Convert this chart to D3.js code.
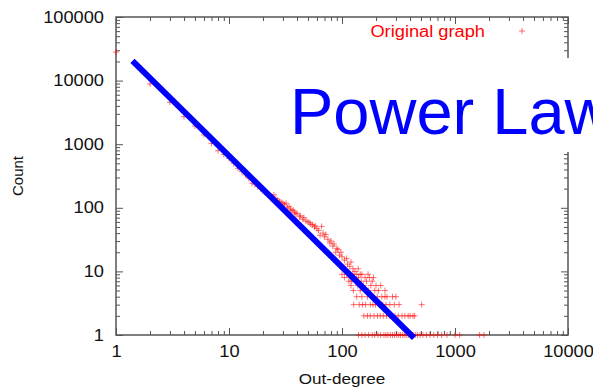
<!DOCTYPE html>
<html>
<head>
<meta charset="utf-8">
<script src="https://cdn.jsdelivr.net/npm/d3@7"></script>
<style>
  body { margin: 0; background: #fff; }
  text { font-family: "Liberation Sans", Arial, sans-serif; }
</style>
</head>
<body>
<script>
(function (d3) {
  "use strict";

  /***** Data *****/
  // one point per out-degree value: [degree, count]
  var outDegree = [
    1, 2, 3, 4, 5, 6, 7, 8, 9, 10, 11, 12, 13, 14, 15, 16, 17, 18, 19, 20,
    21, 22, 23, 24, 25, 26, 27, 28, 29, 30, 31, 32, 33, 34, 35, 36, 37, 38, 39, 40,
    42, 43, 45, 46, 48, 50, 52, 53, 55, 57, 58, 60, 62, 64, 66, 68, 70, 72, 75, 78,
    80, 83, 85, 88, 90, 92, 95, 98, 100, 105, 110, 112, 117, 120, 125, 130, 139, 145
  ];
  var count = [
    28000, 8850, 4560, 2710, 1930, 1400, 1030, 790, 690, 600, 500, 418, 370, 328, 290, 243, 235, 215, 200, 185,
    172, 165, 158, 150, 160, 140, 132, 125, 122, 118, 112, 118, 100, 105, 95, 90, 92, 85, 80, 82,
    72, 75, 66, 70, 62, 60, 58, 55, 54, 50, 52, 47, 44, 37, 51, 40, 35, 38, 32, 28,
    30, 25, 27, 20, 23, 22, 18, 20, 17, 15, 16, 13, 12, 14, 11, 10, 11, 9
  ];
  // low counts: degrees that share the same count
  var row9 = [100, 110, 125, 135, 150, 170];
  var row8 = [105, 118, 128, 140, 160, 175, 190];
  var row7 = [115, 122, 132, 148, 165, 185];
  var row6 = [120, 138, 155, 180, 200, 220];
  var row5 = [126, 145, 158, 172, 195, 210, 240];
  var row4 = [135, 150, 168, 185, 205, 225, 240, 250, 280, 300];
  var row3 = [127, 142, 152, 162, 178, 188, 198, 212, 230, 245, 265, 290, 320, 507];
  var row2 = [156, 168, 178, 192, 206, 218, 232, 248, 262, 275, 295, 315, 340, 360, 385, 400, 425, 440];
  var row1 = [140, 150, 160, 172, 185, 195, 208, 220, 235, 245, 255, 268, 280, 292, 305, 318, 330, 345,
    360, 375, 390, 410, 425, 445, 465, 490, 520, 560, 600, 650, 700, 760, 850, 1000, 1100, 1650, 1800];

  var fitDegree = [1.4, 434];
  var fitCount = [20500, 0.9];

  var xMajor = [1, 10, 100, 1000, 10000];
  var yMajor = [1, 10, 100, 1000, 10000, 100000];

  /***** Configuration *****/
  var width = 593, height = 389;
  var plot = { left: 116, right: 568, top: 17, bottom: 335 };
  var stretch = 1.14; // the slide image was widened a bit

  var x = d3.scaleLog().domain([1, 10000]).range([plot.left, plot.right]);
  var y = d3.scaleLog().domain([1, 100000]).range([plot.bottom, plot.top]);

  function minors(majors) {
    var m = [];
    majors.slice(0, -1).forEach(function (v) {
      for (var k = 2; k < 10; k++) m.push(v * k);
    });
    return m;
  }

  function widen(sel) {
    sel.each(function () {
      var t = d3.select(this);
      if (!t.text()) return;
      t.attr("textLength", this.getComputedTextLength() * stretch)
        .attr("lengthAdjust", "spacingAndGlyphs");
    });
  }

  var points = outDegree.map(function (d, i) { return [d, count[i]]; });
  [[9, row9], [8, row8], [7, row7], [6, row6], [5, row5], [4, row4], [3, row3], [2, row2], [1, row1]]
    .forEach(function (r) {
      r[1].forEach(function (d) { points.push([d, r[0]]); });
    });

  var svg = d3.select("body").append("svg")
    .attr("width", width)
    .attr("height", height);

  /***** Axes (gnuplot style, ticks inward on all sides) *****/
  var frameColor = "#555";
  function styleAxis(g) {
    g.select(".domain").remove();
    g.selectAll("line").attr("stroke", frameColor);
    g.selectAll("text").attr("fill", "#111").style("font-size", "16px").call(widen);
  }

  svg.append("g").attr("transform", "translate(0," + plot.bottom + ")")
    .call(d3.axisBottom(x).tickValues(xMajor).tickFormat(d3.format("d"))
      .tickSizeInner(-7).tickSizeOuter(0).tickPadding(11))
    .call(styleAxis);
  svg.append("g").attr("transform", "translate(0," + plot.bottom + ")")
    .call(d3.axisBottom(x).tickValues(minors(xMajor)).tickFormat("").tickSizeInner(-4).tickSizeOuter(0))
    .call(styleAxis);
  svg.append("g").attr("transform", "translate(0," + plot.top + ")")
    .call(d3.axisTop(x).tickValues(xMajor).tickFormat("").tickSizeInner(-7).tickSizeOuter(0))
    .call(styleAxis);
  svg.append("g").attr("transform", "translate(0," + plot.top + ")")
    .call(d3.axisTop(x).tickValues(minors(xMajor)).tickFormat("").tickSizeInner(-4).tickSizeOuter(0))
    .call(styleAxis);

  svg.append("g").attr("transform", "translate(" + plot.left + ",0)")
    .call(d3.axisLeft(y).tickValues(yMajor).tickFormat(d3.format("d"))
      .tickSizeInner(-7).tickSizeOuter(0).tickPadding(12))
    .call(styleAxis);
  svg.append("g").attr("transform", "translate(" + plot.left + ",0)")
    .call(d3.axisLeft(y).tickValues(minors(yMajor)).tickFormat("").tickSizeInner(-4).tickSizeOuter(0))
    .call(styleAxis);
  svg.append("g").attr("transform", "translate(" + plot.right + ",0)")
    .call(d3.axisRight(y).tickValues(yMajor).tickFormat("").tickSizeInner(-7).tickSizeOuter(0))
    .call(styleAxis);
  svg.append("g").attr("transform", "translate(" + plot.right + ",0)")
    .call(d3.axisRight(y).tickValues(minors(yMajor)).tickFormat("").tickSizeInner(-4).tickSizeOuter(0))
    .call(styleAxis);

  svg.append("rect")
    .attr("x", plot.left).attr("y", plot.top)
    .attr("width", plot.right - plot.left).attr("height", plot.bottom - plot.top)
    .attr("fill", "none").attr("stroke", frameColor).attr("stroke-width", 1.5);

  svg.append("text")
    .attr("transform", "translate(23," + ((plot.top + plot.bottom) / 2) + ") rotate(-90)")
    .attr("text-anchor", "middle")
    .style("font-size", "15px").attr("fill", "#111")
    .text("Count");
  svg.append("text")
    .attr("x", (plot.left + plot.right) / 2).attr("y", 384)
    .attr("text-anchor", "middle")
    .style("font-size", "15px").attr("fill", "#111")
    .text("Out-degree")
    .call(widen);

  /***** Points *****/
  var plus = "M-3,0H3M0,-3V3";
  svg.append("g").selectAll("path")
    .data(points)
    .enter().append("path")
    .attr("transform", function (d) { return "translate(" + x(d[0]) + "," + y(d[1]) + ")"; })
    .attr("d", plus)
    .attr("stroke", "#ff0000").attr("stroke-opacity", 0.55).attr("stroke-width", 1)
    .attr("fill", "none");

  // legend
  svg.append("text")
    .attr("x", 485).attr("y", 37)
    .attr("text-anchor", "end")
    .style("font-size", "16px").attr("fill", "#ff0000")
    .text("Original graph")
    .call(widen);
  svg.append("path")
    .attr("transform", "translate(522,31)")
    .attr("d", plus)
    .attr("stroke", "#ff0000").attr("stroke-opacity", 0.55).attr("fill", "none");

  /***** Power law fit *****/
  var line = d3.line()
    .x(function (d) { return x(d[0]); })
    .y(function (d) { return y(d[1]); });
  svg.append("path")
    .datum(fitDegree.map(function (d, i) { return [d, fitCount[i]]; }))
    .attr("d", line)
    .attr("stroke", "#0000ff").attr("stroke-width", 6).attr("fill", "none");

  // text box pasted over the chart (runs off the right edge, as on the slide)
  svg.append("rect")
    .attr("x", 282).attr("y", 58).attr("width", 320).attr("height", 94)
    .attr("fill", "#fff");
  svg.append("text")
    .attr("x", 290).attr("y", 134)
    .style("font-size", "65px").attr("fill", "#0000ff")
    .text("Power Law");

})(d3);
</script>
</body>
</html>
